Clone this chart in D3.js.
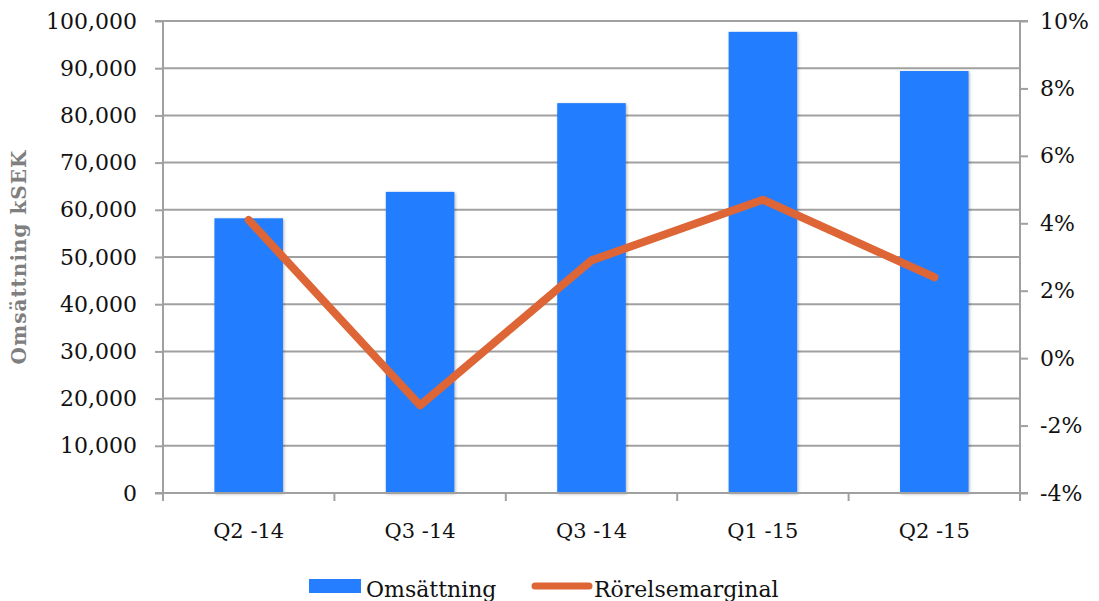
<!DOCTYPE html>
<html>
<head>
<meta charset="utf-8">
<script src="https://cdn.jsdelivr.net/npm/d3@7"></script>
<style>
  body { margin: 0; background: #fff; }
  svg { font-family: "DejaVu Serif", "Liberation Serif", serif; }
</style>
</head>
<body>
<div id="chart"></div>
<script>
// data
const quarters = ['Q2 -14', 'Q3 -14', 'Q3 -14', 'Q1 -15', 'Q2 -15'];
const omsattning = [58200, 63800, 82600, 97700, 89400];
const rorelsemarginal = [0.041, -0.014, 0.029, 0.047, 0.024];
const leftTicks = [0, 10000, 20000, 30000, 40000, 50000, 60000, 70000, 80000, 90000, 100000];
const rightTicks = [-0.04, -0.02, 0, 0.02, 0.04, 0.06, 0.08, 0.10];

const width = 1099, height = 601;
const plotLeft = 163, plotRight = 1020, plotTop = 21, plotBottom = 493;
const grey = '#a0a0a0';
const blue = '#247eff', orange = '#dd6536';

const svg = d3.select('#chart').append('svg')
    .attr('width', width)
    .attr('height', height);

const defs = svg.append('defs');
const shadow = defs.append('filter').attr('id', 'shadow')
    .attr('x', '-20%').attr('y', '-5%').attr('width', '140%').attr('height', '110%');
shadow.append('feDropShadow')
    .attr('dx', 1).attr('dy', 1).attr('stdDeviation', 1.5)
    .attr('flood-color', '#000').attr('flood-opacity', 0.3);

//quarters repeat (two "Q3 -14"), so scales run on the index
const idx = d3.range(quarters.length);

const xScale = d3.scaleBand()
    .domain(idx)
    .range([plotLeft, plotRight])
    .paddingInner(0.6)
    .paddingOuter(0.3);

const xLine = d3.scalePoint()
    .domain(idx)
    .range([plotLeft, plotRight])
    .padding(0.5);

const yLeft = d3.scaleLinear().domain([0, 100000]).range([plotBottom, plotTop]);
const yRight = d3.scaleLinear().domain([-0.04, 0.10]).range([plotBottom, plotTop]);

//grid lines
svg.append('g')
    .selectAll('line')
    .data(leftTicks.slice(1))
    .enter().append('line')
    .attr('x1', plotLeft).attr('x2', plotRight)
    .attr('y1', d => yLeft(d)).attr('y2', d => yLeft(d))
    .attr('stroke', grey).attr('stroke-width', 2);

//left axis
const leftAxis = svg.append('g')
    .attr('transform', `translate(${plotLeft},0)`)
    .call(d3.axisLeft(yLeft).tickValues(leftTicks).tickSize(8).tickPadding(18)
        .tickFormat(d3.format(',')));

//right axis, plain hyphen for negatives like the original
const pct = d3.format('.0%');
const rightAxis = svg.append('g')
    .attr('transform', `translate(${plotRight},0)`)
    .call(d3.axisRight(yRight).tickValues(rightTicks).tickSize(8).tickPadding(12)
        .tickFormat(d => pct(d).replace('−', '-')));

[leftAxis, rightAxis].forEach(a => {
    a.select('.domain').attr('stroke', grey).attr('stroke-width', 2);
    a.selectAll('.tick line').attr('stroke', grey).attr('stroke-width', 2);
    a.selectAll('.tick text').attr('font-size', 22).attr('fill', '#111')
        .attr('font-family', '"DejaVu Serif", serif');
});
rightAxis.select('.domain').attr('d', `M8,${plotTop}H0V${plotBottom}H8`);
leftAxis.select('.domain').attr('d', `M-8,${plotTop}H0V${plotBottom + 8}`);

//bars
svg.append('g')
    .selectAll('rect')
    .data(idx)
    .enter().append('rect')
    .attr('x', i => xScale(i))
    .attr('y', i => yLeft(omsattning[i]))
    .attr('width', xScale.bandwidth())
    .attr('height', i => plotBottom - yLeft(omsattning[i]))
    .attr('fill', blue)
    .attr('filter', 'url(#shadow)');

//bottom axis
const xAxis = svg.append('g')
    .attr('transform', `translate(0,${plotBottom})`);
xAxis.append('line')
    .attr('x1', plotLeft - 8).attr('x2', plotRight + 8)
    .attr('stroke', grey).attr('stroke-width', 2);
const step = (plotRight - plotLeft) / quarters.length;
xAxis.selectAll('.xt')
    .data(d3.range(quarters.length + 1))
    .enter().append('line')
    .attr('x1', i => plotLeft + i * step).attr('x2', i => plotLeft + i * step)
    .attr('y1', 0).attr('y2', 8)
    .attr('stroke', grey).attr('stroke-width', 2);
xAxis.selectAll('text')
    .data(idx)
    .enter().append('text')
    .attr('x', i => xLine(i))
    .attr('y', 45)
    .attr('text-anchor', 'middle')
    .attr('font-size', 21)
    .attr('fill', '#111')
    .text(i => quarters[i]);

//line
const line = d3.line()
    .x((d, i) => xLine(i))
    .y(d => yRight(d));
svg.append('path')
    .datum(rorelsemarginal)
    .attr('d', line)
    .attr('fill', 'none')
    .attr('stroke', orange)
    .attr('stroke-width', 8)
    .attr('stroke-linecap', 'round')
    .attr('stroke-linejoin', 'round');

//axis title
svg.append('text')
    .attr('transform', `translate(26,${(plotTop + plotBottom) / 2}) rotate(-90)`)
    .attr('text-anchor', 'middle')
    .attr('font-size', 20)
    .attr('letter-spacing', 1)
    .attr('font-weight', 'bold')
    .attr('fill', '#7f7f7f')
    .text('Omsättning kSEK');

//legend
const legend = svg.append('g');
legend.append('rect')
    .attr('x', 309).attr('y', 579).attr('width', 52).attr('height', 14)
    .attr('fill', blue);
legend.append('text')
    .attr('x', 366).attr('y', 597)
    .attr('font-size', 22).attr('fill', '#111')
    .text('Omsättning');
legend.append('line')
    .attr('x1', 535).attr('x2', 589).attr('y1', 586).attr('y2', 586)
    .attr('stroke', orange).attr('stroke-width', 7).attr('stroke-linecap', 'round');
legend.append('text')
    .attr('x', 594).attr('y', 597)
    .attr('font-size', 22).attr('fill', '#111')
    .text('Rörelsemarginal');
</script>
</body>
</html>
